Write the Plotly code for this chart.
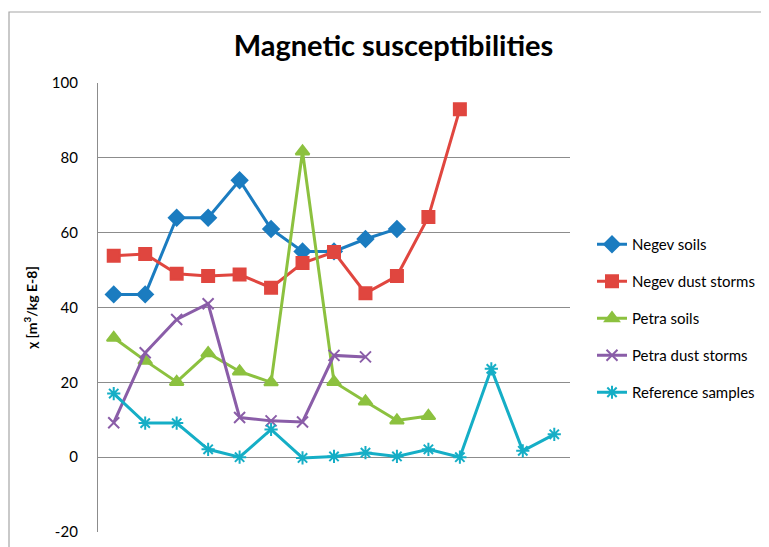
import plotly.graph_objects as go

categories = list(range(1, 16))
negev_soils = [43.5, 43.5, 64, 64, 74, 61, 55, 55, 58.3, 61]
negev_dust = [53.8, 54.3, 49, 48.4, 48.8, 45.3, 51.9, 54.8, 43.8, 48.4, 64.2, 93]
petra_soils = [31.9, 25.8, 20.1, 27.8, 22.9, 20, 81.7, 20.1, 14.9, 9.8, 11]
petra_dust = [9.2, 27.9, 36.8, 41, 10.6, 9.7, 9.4, 27.2, 26.8]
reference = [17, 9.1, 9.1, 2.1, 0, 7.4, -0.2, 0.2, 1.2, 0.2, 2.1, 0, 23.6, 1.7, 6.1]

y_ticks = [-20, 0, 20, 40, 60, 80, 100]

series = [
    ("Negev soils", negev_soils, "#1B7CC0", "diamond", 12),
    ("Negev dust storms", negev_dust, "#E0463F", "square", 12),
    ("Petra soils", petra_soils, "#8CC13F", "triangle-up", 12),
    ("Petra dust storms", petra_dust, "#8A5DA8", "x-thin-open", 11),
    ("Reference samples", reference, "#15AEC6", "asterisk-open", 11),
]

FONT = "Lato"
OFF = 8  # page body margin offset
fig = go.Figure()
for i, (name, vals, color, sym, size) in enumerate(series):
    fig.add_trace(go.Scatter(
        x=categories[:len(vals)], y=vals, name=name, mode="lines+markers",
        line=dict(color=color, width=3),
        marker=dict(symbol=sym, size=size, color=color,
                    line=dict(color=color, width=2)),
        legendgroup=f"g{i}",
    ))

W, H = 769, 547
L = 98 - OFF
T = 83 - OFF
R = W - (570 - OFF)
B = H - (532 - OFF)
pw, ph = W - L - R, H - T - B

fig.add_shape(type="rect", xref="paper", yref="paper",
              x0=(9 - OFF - L) / pw, x1=(800 - L) / pw,
              y0=-0.2, y1=1 + (T - (12 - OFF)) / ph,
              line=dict(color="#a6a6a6", width=1.2), layer="below")

fig.update_layout(
    width=W, height=H,
    margin=dict(l=L, r=R, t=T, b=B, autoexpand=False),
    paper_bgcolor="white", plot_bgcolor="white",
    font=dict(family=FONT, color="#000000"),
    title=dict(text="<b>Magnetic susceptibilities</b>", x=(393.5 - OFF) / W,
               xanchor="center", y=1 - (46 - OFF) / H, yanchor="middle",
               font=dict(size=29, family=FONT)),
    showlegend=True,
    legend=dict(x=(592 - OFF - L) / pw, y=1 - (228 - OFF - T) / ph,
                xanchor="left", yanchor="top",
                font=dict(size=15, family=FONT), traceorder="grouped",
                tracegroupgap=14.5, bgcolor="rgba(0,0,0,0)"),
    xaxis=dict(range=[0.5, 15.5], showticklabels=False, showgrid=False,
               zeroline=False, showline=False, ticks=""),
    yaxis=dict(range=[-20, 100], tickvals=y_ticks, ticktext=[str(v) for v in y_ticks],
               showgrid=True, gridcolor="#8c8c8c", gridwidth=1.3,
               zeroline=False, showline=True, linecolor="#8c8c8c", linewidth=1.3,
               ticks="", ticklabelstandoff=16, automargin=False,
               tickfont=dict(size=15, family=FONT),
               title=dict(text="<b>χ [m<sup>3</sup>/kg E-8]</b>", standoff=10,
                          font=dict(size=14, family=FONT))),
)

fig.write_html("out.html")
